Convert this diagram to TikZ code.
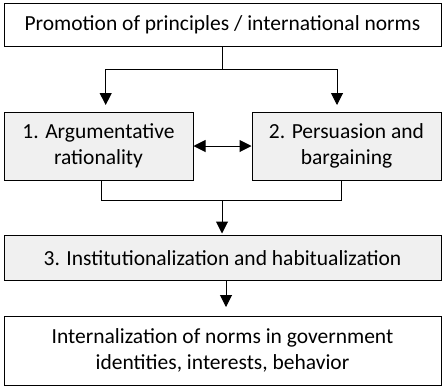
\documentclass[tikz,border=0pt]{standalone}
\usepackage{fontspec}
\setmainfont{Carlito}
\usetikzlibrary{arrows.meta}
\tikzset{
    plain/.style={draw,line width=1pt,inner sep=0pt,align=center,font=\fontsize{21.5}{26.5}\selectfont},
    grey/.style={plain,fill=black!6},
    arr/.style={line width=1pt,-{Triangle[length=12pt,width=12pt]}},
    link/.style={line width=1pt}
}

\begin{document}
\begin{tikzpicture}[x=1pt,y=-1pt]
    \useasboundingbox (0,0) rectangle (443,386);
    \node[plain,minimum width=437pt,minimum height=43pt] (promo) at (222.5,25) {Promotion of principles / international norms};
    \node[grey,minimum width=189pt,minimum height=68pt] (arg) at (98.5,146) {1. Argumentative\\rationality};
    \node[grey,minimum width=189pt,minimum height=68pt] (pers) at (346.5,146) {2. Persuasion and\\bargaining};
    \node[grey,minimum width=437pt,minimum height=45pt] (inst) at (222.5,258) {3. Institutionalization and habitualization};
    \node[plain,minimum width=437pt,minimum height=69pt] (intern) at (222.5,350.5) {Internalization of norms in government\\identities, interests, behavior};
    % fork from the top box
    \coordinate (fork) at (222,69.5);
    \coordinate (argin) at (105.7,105);
    \coordinate (persin) at (337,105);
    \draw[link] (promo.south -| fork) -- (fork);
    \draw[arr] (fork) -| (argin);
    \draw[arr] (fork) -| (persin);
    \draw[line width=1pt,{Triangle[length=12pt,width=12pt]}-{Triangle[length=12pt,width=12pt]}] (arg.east) -- (pers.west);
    % join into box 3
    \coordinate (argout) at (101.7,200);
    \coordinate (persout) at (341.7,200);
    \coordinate (join) at (222,200);
    \draw[link] (arg.south -| argout) -- (argout) -- (persout) -- (pers.south -| persout);
    \draw[arr,shorten >=1.5pt] (join) -- (inst.north -| join);
    \coordinate (down) at (226,307);
    \draw[arr] (inst.south -| down) -- (down);
\end{tikzpicture}
\end{document}
